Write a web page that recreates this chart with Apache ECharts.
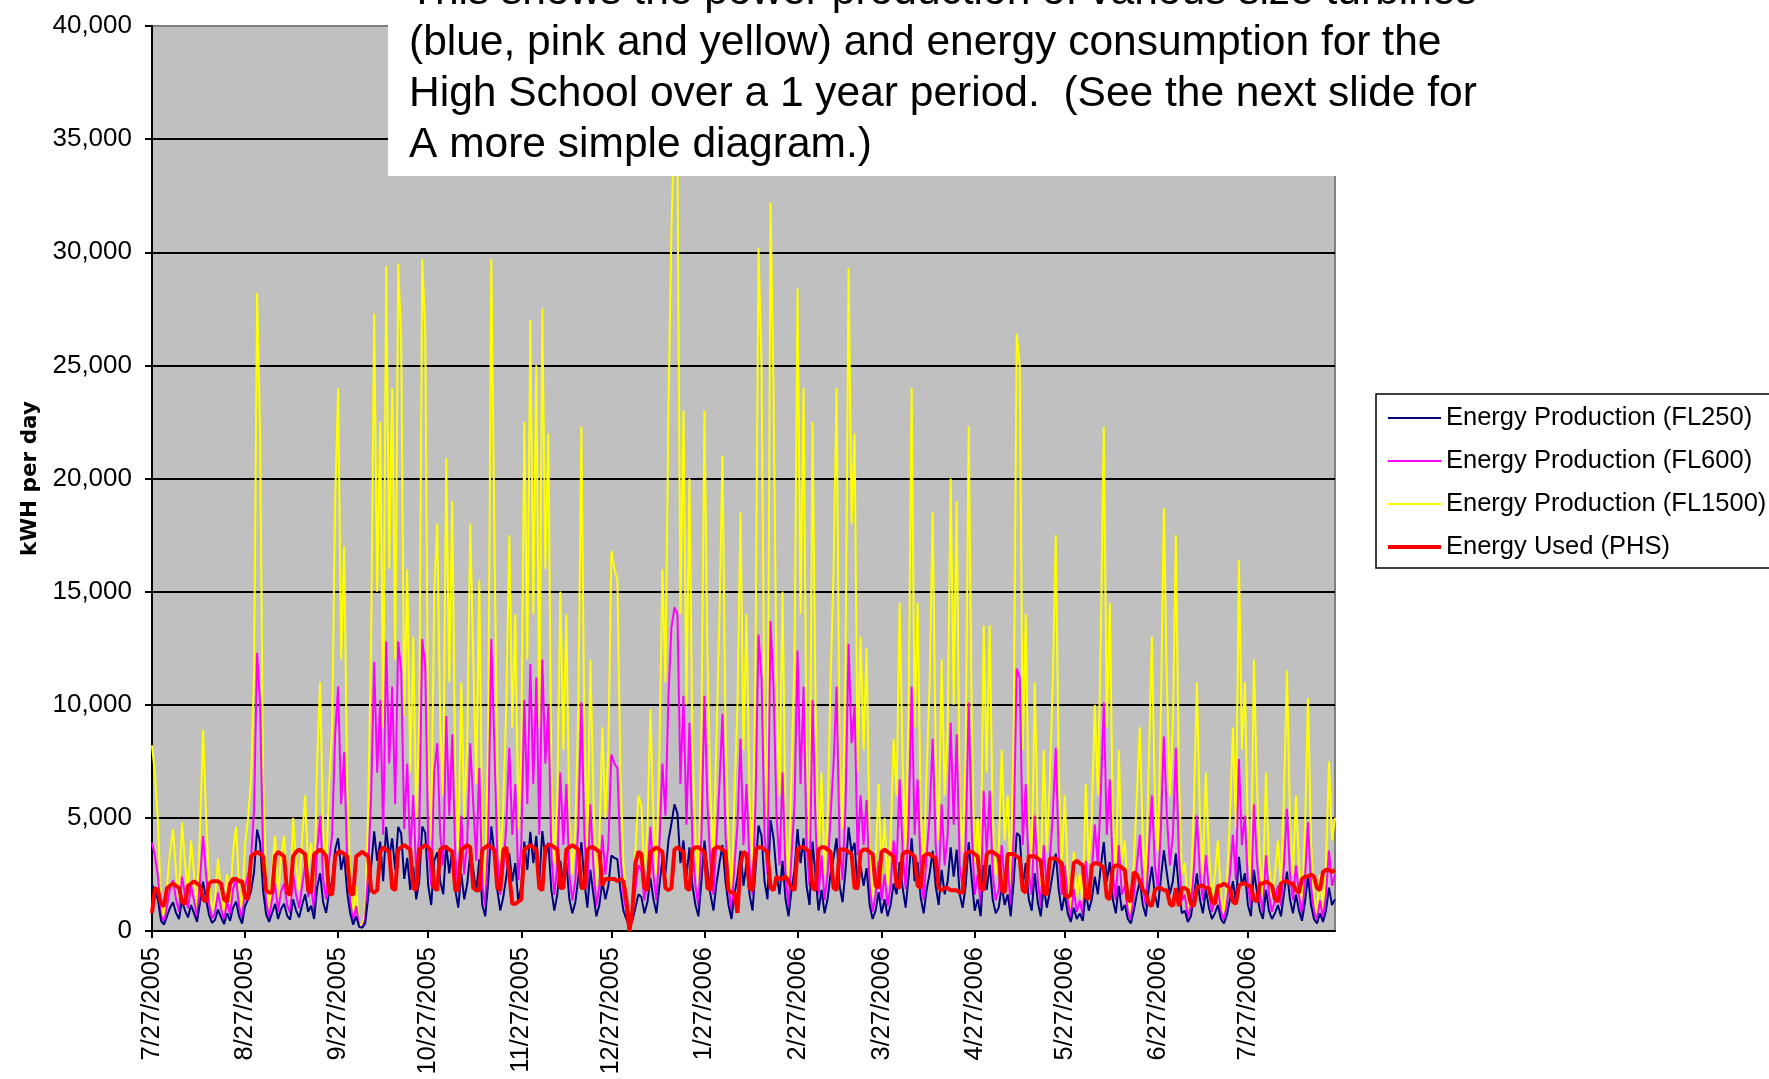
<!DOCTYPE html>
<html>
<head>
<meta charset="utf-8">
<script src="https://cdn.jsdelivr.net/npm/echarts@6/dist/echarts.min.js"></script>
<style>
html,body{margin:0;padding:0;background:#fff;}
#c{width:1769px;height:1079px;}
</style>
</head>
<body>
<div id="c"></div>
<script>
// ---- data (daily, 7/27/2005 .. 8/25/2006) ----
const startYear = 2005, startMonth = 7, startDay = 27;
const dayCount = 395;

const tickLabels = ['7/27/2005','8/27/2005','9/27/2005','10/27/2005','11/27/2005','12/27/2005',
  '1/27/2006','2/27/2006','3/27/2006','4/27/2006','5/27/2006','6/27/2006','7/27/2006'];

const seriesNames = ['Energy Production (FL250)','Energy Production (FL600)','Energy Production (FL1500)','Energy Used (PHS)'];

const fl250 = [
2050,1800,1350,450,280,650,1030,
1270,800,530,1350,900,600,1150,
780,400,1270,2180,1420,700,360,
500,950,600,300,780,450,1030,
1300,650,330,1100,1400,1760,2620,
4480,3900,1780,750,400,800,1200,
530,980,1200,680,500,1400,900,
600,1150,1620,850,1120,530,1920,
2550,1270,800,1720,2200,3600,4100,
2700,3350,1720,780,280,650,180,
150,330,1500,2850,4400,3100,3950,
2200,4590,3230,4100,2700,4600,4300,
2300,3230,1820,2850,1400,2200,4620,
4340,2000,1150,3100,3480,2200,1620,
3800,2550,3600,1820,1030,2550,1400,
2100,3480,2700,1720,3170,1150,650,
2200,4620,3480,1820,900,1500,2400,
3420,2200,3000,1270,2000,3950,2700,
4380,3000,4200,2200,4420,3230,3900,
1820,900,1620,3100,2000,3000,1400,
780,1270,2400,3930,2200,1030,2700,
1620,650,1150,2200,1400,2000,3330,
3230,3170,1820,900,530,150,450,
1030,1620,1500,780,1270,2350,1400,
780,2000,3230,2550,4000,4750,5600,
5200,3000,4000,2400,3700,2000,1150,
650,2200,4000,2700,1620,900,2100,
3000,3800,2200,1150,530,1620,2400,
3540,2000,3000,1620,900,2700,4660,
4200,2200,1400,4900,4100,2550,1620,
3100,1400,650,1820,2700,4500,3000,
4100,2000,1150,3950,2400,900,1820,
780,1400,2550,3230,4100,2000,1270,
2700,4580,3480,3900,1820,2850,2000,
2780,1150,530,900,1720,780,1400,
650,1150,2100,1620,3050,1920,1030,
2400,4100,2200,3050,1500,780,1820,
2550,3540,2000,1150,2700,1620,2200,
3700,2400,3600,1620,1030,2000,3930,
2300,900,1400,650,2920,1820,2920,
1400,780,1030,2000,1150,1620,650,
2200,4330,4200,2000,3000,1400,900,
2550,1270,650,2000,1030,1720,2550,
3420,1820,900,1620,780,400,1030,
530,780,450,1720,900,1400,2400,
1620,2850,3930,2200,3050,1400,780,
2000,900,1150,530,330,900,1620,
2200,1150,650,1920,2850,1620,1030,
2300,3560,2550,1620,2200,3420,1820,
780,900,400,650,1500,2550,1400,
780,1820,1030,530,780,1150,530,
330,700,1400,2200,1270,3280,2000,
2550,1150,650,2700,1720,900,530,
1820,900,530,780,1150,650,1620,
2620,1400,780,1620,900,450,1270,
2450,1150,530,330,780,400,900,
1920,1150,1400
];

const fl600 = [
3900,3300,2400,700,400,1100,1850,
2250,1400,850,2400,1600,1000,2000,
1350,600,2250,4200,2500,1200,550,
800,1700,1000,450,1350,700,1850,
2300,1100,500,1950,2500,3200,5400,
12300,10000,3250,1300,600,1400,2100,
850,1750,2100,1150,800,2500,1600,
1000,2000,2900,1500,2000,850,3550,
5100,2250,1400,3100,4250,8700,10800,
5600,7900,3100,1350,400,1100,200,
150,500,2700,6000,11900,7000,10200,
4250,12800,7400,10800,5600,12800,11500,
4500,7400,3350,6000,2500,4250,12900,
11700,3800,2000,7000,8300,4250,2900,
9500,5100,8700,3350,1850,5100,2500,
4000,8300,5600,3100,7200,2000,1100,
4250,12900,8300,3350,1600,2700,4700,
8100,4250,6500,2250,3800,10200,5600,
11800,6500,11200,4250,12000,7400,10000,
3350,1600,2900,7000,3800,6500,2500,
1350,2250,4700,10100,4250,1850,5600,
2900,1100,2000,4250,2500,3800,7800,
7400,7200,3350,1600,850,150,700,
1850,2900,2700,1350,2250,4600,2500,
1350,3800,7400,5100,10400,13400,14300,
14000,6500,10400,4700,9200,3800,2000,
1100,4250,10400,5600,2900,1600,4000,
6500,9600,4250,2000,850,2900,4700,
8500,3800,6500,2900,1600,5600,13100,
11200,4250,2500,13700,10800,5100,2900,
7000,2500,1100,3350,5600,12400,6500,
10800,3800,2000,10200,4700,1600,3350,
1350,2500,5100,7400,10800,3800,2250,
5600,12700,8300,10000,3350,6000,3800,
5800,2000,850,1600,3100,1350,2500,
1100,2000,4000,2900,6700,3550,1850,
4700,10800,4250,6700,2700,1350,3350,
5100,8500,3800,2000,5600,2900,4250,
9200,4700,8700,2900,1850,3800,10100,
4500,1600,2500,1100,6200,3350,6200,
2500,1350,1850,3800,2000,2900,1100,
4250,11600,11200,3800,6500,2500,1600,
5100,2250,1100,3800,1850,3100,5100,
8100,3350,1600,2900,1350,600,1850,
850,1350,700,3100,1600,2500,4700,
2900,6000,10100,4250,6700,2500,1350,
3800,1600,2000,850,500,1600,2900,
4250,2000,1100,3550,6000,2900,1850,
4500,8600,5100,2900,4250,8100,3350,
1350,1600,600,1100,2700,5100,2500,
1350,3350,1850,850,1350,2000,850,
500,1200,2500,4250,2250,7600,3800,
5100,2000,1100,5600,3100,1600,850,
3350,1600,850,1350,2000,1100,2900,
5400,2500,1350,2900,1600,700,2250,
4800,2000,850,500,1350,600,1600,
3550,2000,2500
];

const fl1500 = [
8200,6900,4800,1200,600,2000,3500,
4500,2600,1500,4800,3000,1800,4000,
2500,1000,4500,8900,5100,2200,900,
1400,3200,1800,700,2500,1200,3500,
4600,2000,800,3800,5000,6700,11500,
28200,22000,6800,2400,1000,2600,4200,
1500,3300,4200,2100,1400,5000,3000,
1800,4000,6000,2800,3900,1500,7500,
11000,4500,2600,6500,9000,19000,24000,
12000,17000,6500,2500,600,2000,300,
200,800,5500,13000,27300,15000,22500,
9000,29400,16000,24000,12000,29500,26000,
9500,16000,7000,13000,5000,9000,29700,
26500,8000,4000,15000,18000,9000,6000,
20900,11000,19000,7000,3500,11000,5000,
8500,18000,12000,6500,15500,4000,2000,
9000,29700,18000,7000,3000,5500,10000,
17500,9000,14000,4500,8000,22500,12000,
27000,14000,25000,9000,27500,16000,22000,
7000,3000,6000,15000,8000,14000,5000,
2500,4500,10000,22300,9000,3500,12000,
6000,2000,4000,9000,5000,8000,16800,
16000,15500,7000,3000,1500,200,1200,
3500,6000,5500,2500,4500,9800,5000,
2500,8000,16000,11000,23000,31000,36000,
34000,14000,23000,10000,20000,8000,4000,
2000,9000,23000,12000,6000,3000,8500,
14000,21000,9000,4000,1500,6000,10000,
18500,8000,14000,6000,3000,12000,30200,
25000,9000,5000,32200,24000,11000,6000,
15000,5000,2000,7000,12000,28400,14000,
24000,8000,4000,22500,10000,3000,7000,
2500,5000,11000,16000,24000,8000,4500,
12000,29300,18000,22000,7000,13000,8000,
12500,4000,1500,3000,6500,2500,5000,
2000,4000,8500,6000,14500,7500,3500,
10000,24000,9000,14500,5500,2500,7000,
11000,18500,8000,4000,12000,6000,9000,
20000,10000,19000,6000,3500,8000,22300,
9500,3000,5000,2000,13500,7000,13500,
5000,2500,3500,8000,4000,6000,2000,
9000,26400,25000,8000,14000,5000,3000,
11000,4500,2000,8000,3500,6500,11000,
17500,7000,3000,6000,2500,1000,3500,
1500,2500,1200,6500,3000,5000,10000,
6000,13000,22300,9000,14500,5000,2500,
8000,3000,4000,1500,800,3000,6000,
9000,4000,2000,7500,13000,6000,3500,
9500,18700,11000,6000,9000,17500,7000,
2500,3000,1000,2000,5500,11000,5000,
2500,7000,3500,1500,2500,4000,1500,
800,2200,5000,9000,4500,16400,8000,
11000,4000,2000,12000,6500,3000,1500,
7000,3000,1500,2500,4000,2000,6000,
11500,5000,2500,6000,3000,1200,4500,
10300,4000,1500,800,2500,1000,3000,
7500,4000,5000
];

const phsUsed = [
800,1900,1800,1200,1100,1900,2000,
2100,2000,1900,1300,1200,2000,2100,
2200,2100,2000,1400,1300,2100,2200,
2200,2200,2100,1400,1300,2100,2300,
2300,2200,2200,1500,1400,3300,3400,
3500,3400,3300,1800,1700,1700,3300,
3500,3400,3300,1700,1600,3300,3500,
3600,3500,3400,1800,1700,3400,3500,
3600,3500,3300,1700,1600,3300,3500,
3500,3400,3300,1700,1600,3300,3400,
3500,3400,3300,1800,1700,1800,3500,
3700,3600,3500,1900,1800,3600,3700,
3800,3700,3600,1900,1800,3600,3700,
3800,3700,3500,1900,1800,3600,3700,
3700,3600,3500,1800,1800,3600,3700,
3800,3700,1900,1800,1800,3600,3700,
3800,3700,3600,1900,1800,3600,3700,
2500,1200,1200,1300,1400,3600,3700,
3800,3700,3600,1900,1800,3700,3800,
3800,3700,3600,1900,1900,3600,3700,
3800,3700,3600,1900,1900,3600,3700,
3700,3600,3500,2000,2300,2300,2300,
2300,2200,2300,2200,1400,0,900,
3000,3500,3400,1900,1800,3500,3600,
3700,3600,3500,1900,1800,1900,3600,
3700,3600,3500,1900,1800,3600,3700,
3700,3600,3500,1900,1800,3600,3700,
3700,3600,3500,1800,1700,1700,800,
3000,3500,3400,1900,1800,3600,3700,
3700,3600,3500,1900,1800,2400,2300,
2300,2400,2200,1900,1800,3600,3700,
3700,3600,3500,1900,1800,3600,3700,
3700,3600,3500,1900,1800,3600,3600,
3600,3500,3400,1900,1900,3500,3600,
3600,3500,3400,2000,1900,3500,3600,
3500,3400,3300,2000,1900,3400,3500,
3500,3400,3300,2000,1900,3300,3400,
3400,3300,3200,1900,1800,1900,1900,
1800,1800,1800,1700,1700,3400,3500,
3500,3400,3300,1900,1800,3400,3500,
3500,3400,3300,1800,1700,3400,3400,
3400,3300,3200,1800,1700,3300,3300,
3300,3200,3100,1700,1600,3200,3200,
3200,3100,3000,1600,1500,1600,3000,
3100,3000,2900,1500,1400,2900,3000,
3000,2900,2800,1500,1400,2800,2900,
2900,2800,2700,1400,1300,2600,2500,
2200,1800,1700,1200,1100,1800,1900,
1900,1800,1800,1200,1100,1900,1100,
1900,1900,1800,1200,1100,1900,2000,
2000,1900,1900,1300,1200,2000,2000,
2100,2000,1900,1300,1200,2000,2100,
2100,2000,2000,1400,1300,2100,2100,
2200,2100,2000,1400,1300,2100,2200,
2200,2100,2100,1800,1700,2300,2400,
2400,2500,2400,1900,1800,2600,2700,
2700,2600,2700
];

const noteLines = [
  'This shows the power production of various size turbines',
  '(blue, pink and yellow) and energy consumption for the',
  'High School over a 1 year period.  (See the next slide for',
  'A more simple diagram.)'
];

// ---- categories (one per day) ----
const categories = [];
for (let i = 0; i < dayCount; i++) {
  const d = new Date(startYear, startMonth - 1, startDay + i);
  categories.push((d.getMonth() + 1) + '/' + d.getDate() + '/' + d.getFullYear());
}

const showTick = (idx, val) => tickLabels.indexOf(val) >= 0;
const fmt = v => String(v).replace(/\B(?=(\d{3})+(?!\d))/g, ',');

const chart = echarts.init(document.getElementById('c'), null, {renderer: 'canvas'});

const noteGraphics = [
  {type: 'rect', shape: {x: 388, y: -10, width: 1110, height: 186}, style: {fill: '#ffffff'}, z: 100}
];
noteLines.forEach((t, i) => {
  noteGraphics.push({
    type: 'text', x: 409, y: -8 + i * 51, z: 101,
    style: {text: t, fill: '#000', font: '42.5px "Liberation Sans", Arial, sans-serif', verticalAlign: 'middle', align: 'left'}
  });
});

const legendWidths = [2, 2, 2, 4];

const option = {
  animation: false,
  backgroundColor: '#ffffff',
  grid: {left: 152, top: 26, right: 434, bottom: 148, show: true, outerBoundsMode: 'none',
         backgroundColor: '#c0c0c0', borderColor: '#808080', borderWidth: 2},
  legend: {
    orient: 'vertical', left: 1376, top: 394,
    data: seriesNames.map((n, i) => ({name: n, lineStyle: {width: legendWidths[i]}})),
    itemWidth: 53, itemHeight: 14, itemGap: 17,
    padding: [11, 10, 8, 10],
    borderColor: '#000', borderWidth: 1.5, backgroundColor: '#fff',
    itemStyle: {opacity: 0},
    textStyle: {fontFamily: '"Liberation Sans", Arial, sans-serif', fontSize: 25.5, color: '#000'},
    inactiveColor: '#999'
  },
  xAxis: {
    type: 'category', data: categories, boundaryGap: false,
    axisLine: {show: true, lineStyle: {color: '#000', width: 2}},
    axisTick: {show: true, interval: showTick, length: 7, lineStyle: {color: '#000', width: 2}},
    axisLabel: {interval: showTick, rotate: 90, margin: 16, color: '#000',
                fontFamily: '"Liberation Sans", Arial, sans-serif', fontSize: 25.5},
    splitLine: {show: false}
  },
  yAxis: {
    type: 'value', min: 0, max: 40000, interval: 5000,
    name: 'kWH per day', nameLocation: 'middle', nameGap: 110,
    nameTextStyle: {fontFamily: '"DejaVu Sans", sans-serif', fontWeight: 'bold', fontSize: 21.5, color: '#000'},
    axisLine: {show: true, lineStyle: {color: '#000', width: 2}},
    axisTick: {show: true, length: 7, lineStyle: {color: '#000', width: 2}},
    axisLabel: {formatter: fmt, margin: 20, color: '#000',
                fontFamily: '"Liberation Sans", Arial, sans-serif', fontSize: 26},
    splitLine: {show: true, showMaxLine: false, lineStyle: {color: '#000', width: 2}}
  },
  series: [
    {name: seriesNames[0], type: 'line', data: fl250, symbol: 'none', showSymbol: false, z: 4,
     lineStyle: {color: '#000080', width: 2}, itemStyle: {color: '#000080'}},
    {name: seriesNames[1], type: 'line', data: fl600, symbol: 'none', showSymbol: false, z: 3,
     lineStyle: {color: '#ff00ff', width: 2}, itemStyle: {color: '#ff00ff'}},
    {name: seriesNames[2], type: 'line', data: fl1500, symbol: 'none', showSymbol: false, z: 2,
     lineStyle: {color: '#ffff00', width: 2}, itemStyle: {color: '#ffff00'}},
    {name: seriesNames[3], type: 'line', data: phsUsed, symbol: 'none', showSymbol: false, z: 5,
     lineStyle: {color: '#ff0000', width: 4}, itemStyle: {color: '#ff0000'}}
  ],
  graphic: {elements: noteGraphics}
};
chart.setOption(option);
</script>
</body>
</html>
